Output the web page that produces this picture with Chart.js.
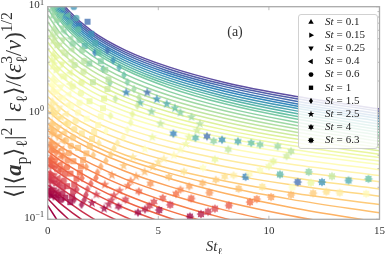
<!DOCTYPE html>
<html>
<head>
<meta charset="utf-8">
<script src="https://cdn.jsdelivr.net/npm/chart.js@4.4.1/dist/chart.umd.min.js"></script>
<style>
  html, body { margin: 0; padding: 0; background: #fff; }
  canvas { display: block; }
</style>
</head>
<body>
<canvas id="chart" width="386" height="254"></canvas>
<script>
// model curves, one row per dissipation bin (bottom red -> top purple), y at curveX
const curveX = [0, 0.5, 1, 2, 3.5, 5.5, 8, 11, 15];
const curveY = [
  [0.135, 0.0931],
  [0.156, 0.122, 0.0979],
  [0.181, 0.145, 0.120, 0.085],
  [0.210, 0.171, 0.142, 0.103, 0.0696],
  [0.243, 0.202, 0.171, 0.128, 0.0896],
  [0.282, 0.234, 0.199, 0.149, 0.105, 0.0727],
  [0.327, 0.274, 0.234, 0.178, 0.127, 0.0891],
  [0.378, 0.317, 0.271, 0.206, 0.147, 0.103, 0.0727],
  [0.439, 0.367, 0.314, 0.238, 0.171, 0.120, 0.0842],
  [0.508, 0.428, 0.367, 0.281, 0.203, 0.144, 0.102, 0.0740],
  [0.589, 0.497, 0.428, 0.330, 0.239, 0.171, 0.122, 0.0887],
  [0.682, 0.579, 0.500, 0.387, 0.283, 0.204, 0.147, 0.108, 0.0773],
  [0.791, 0.673, 0.583, 0.454, 0.334, 0.242, 0.176, 0.129, 0.0936],
  [0.916, 0.760, 0.649, 0.500, 0.369, 0.272, 0.202, 0.154, 0.115],
  [1.06, 0.855, 0.718, 0.546, 0.403, 0.300, 0.229, 0.178, 0.138],
  [1.23, 0.990, 0.832, 0.634, 0.470, 0.352, 0.269, 0.211, 0.165],
  [1.43, 1.15, 0.961, 0.733, 0.545, 0.409, 0.314, 0.247, 0.193],
  [1.65, 1.32, 1.11, 0.845, 0.629, 0.473, 0.363, 0.286, 0.225],
  [1.91, 1.53, 1.28, 0.970, 0.721, 0.542, 0.417, 0.329, 0.258],
  [2.22, 1.76, 1.47, 1.11, 0.822, 0.617, 0.474, 0.373, 0.293],
  [2.57, 2.02, 1.68, 1.26, 0.932, 0.697, 0.534, 0.420, 0.328],
  [2.98, 2.31, 1.91, 1.42, 1.04, 0.767, 0.584, 0.455, 0.354],
  [3.45, 2.65, 2.16, 1.59, 1.15, 0.845, 0.637, 0.494, 0.381],
  [4.00, 3.03, 2.45, 1.79, 1.28, 0.928, 0.694, 0.535, 0.410],
  [4.63, 3.46, 2.78, 2.00, 1.41, 1.02, 0.756, 0.578, 0.441],
  [5.37, 3.96, 3.15, 2.24, 1.56, 1.12, 0.822, 0.624, 0.473],
  [6.22, 4.52, 3.56, 2.50, 1.73, 1.22, 0.893, 0.673, 0.506],
  [7.21, 5.16, 4.02, 2.79, 1.91, 1.34, 0.968, 0.725, 0.541],
  [8.36, 5.89, 4.55, 3.11, 2.10, 1.46, 1.05, 0.779, 0.578],
  [9.68, 6.72, 5.14, 3.47, 2.32, 1.59, 1.13, 0.837, 0.617],
  [11.2, 7.66, 5.79, 3.86, 2.55, 1.73, 1.22, 0.898, 0.657],
  [11.9, 8.06, 6.09, 4.06, 2.68, 1.83, 1.29, 0.952, 0.698],
  [12.5, 8.48, 6.39, 4.26, 2.82, 1.92, 1.37, 1.01, 0.742],
  [13.3, 8.93, 6.72, 4.47, 2.96, 2.02, 1.44, 1.07, 0.787],
  [14.0, 9.39, 7.05, 4.69, 3.11, 2.13, 1.52, 1.13, 0.834],
  [14.8, 9.88, 7.40, 4.92, 3.26, 2.24, 1.60, 1.19, 0.882],
  [15.6, 10.4, 7.77, 5.15, 3.41, 2.35, 1.68, 1.25, 0.932],
  [16.5, 10.9, 8.15, 5.40, 3.58, 2.46, 1.77, 1.32, 0.983],
  [17.5, 11.5, 8.54, 5.65, 3.74, 2.58, 1.85, 1.39, 1.04],
  [18.5, 12.1, 8.95, 5.90, 3.91, 2.70, 1.94, 1.46, 1.09]
];

// particle data: one row per St, one column per dissipation bin
const stValues = [0.1, 0.15, 0.25, 0.4, 0.6, 1, 1.5, 2.5, 4, 6.3];
const stLabels = ['0.1', '0.15', '0.25', '0.4', '0.6', '1', '1.5', '2.5', '4', '6.3'];
const binColor = [0, 0.04, 0.08, 0.12, 0.16, 0.20, 0.24, 0.28, 0.32, 0.36, 0.40, 0.44,
                  0.48, 0.52, 0.56, 0.60, 0.64, 0.68, 0.72, 0.76, 0.80, 0.84, 0.88, 0.94,
                  0.02, 0.10, 0.18, 0.26, 0.34, 0.42, 0.50, 0.58, 0.66, 0.74, 0.82, 0.91];
const markerX = [
  [0.10, 0.11, 0.12, 0.12, 0.13, 0.145, 0.15, 0.16, 0.18, 0.19, 0.20, 0.21, 0.23, 0.24, 0.25, 0.255, 0.27, 0.275, 0.26, null, null, null, null, null,
   0.08, 0.09, 0.10, 0.12, 0.14, 0.15, 0.18, 0.19, 0.20, 0.19, null, null],
  [0.15, 0.165, 0.17, 0.18, 0.20, 0.22, 0.23, 0.24, 0.26, 0.285, 0.30, 0.315, 0.34, 0.36, 0.38, 0.38, 0.41, 0.41, 0.39, 0.36, null, null, null, null,
   0.12, 0.13, 0.155, 0.17, 0.21, 0.23, 0.26, 0.28, 0.31, 0.28, null, null],
  [0.26, 0.275, 0.29, 0.30, 0.33, 0.36, 0.38, 0.40, 0.44, 0.475, 0.50, 0.525, 0.57, 0.60, 0.63, 0.64, 0.68, 0.69, 0.65, 0.60, null, null, null, null,
   0.20, 0.22, 0.26, 0.29, 0.34, 0.385, 0.44, 0.47, 0.51, 0.47, null, null],
  [0.41, 0.44, 0.46, 0.48, 0.52, 0.58, 0.60, 0.64, 0.70, 0.76, 0.80, 0.84, 0.91, 0.96, 1.00, 1.02, 1.08, 1.10, 1.04, 0.96, 0.92, null, null, null,
   0.32, 0.35, 0.41, 0.46, 0.55, 0.62, 0.70, 0.76, 0.82, 0.75, 0.67, null],
  [0.61, 0.66, 0.69, 0.72, 0.78, 0.87, 0.90, 0.96, 1.05, 1.14, 1.20, 1.26, 1.37, 1.44, 1.50, 1.53, 1.62, 1.65, 1.56, 1.44, 1.38, 1.29, 1.18, null,
   0.48, 0.53, 0.62, 0.70, 0.82, 0.92, 1.05, 1.13, 1.22, 1.13, 1.00, null],
  [1.02, 1.10, 1.15, 1.20, 1.30, 1.45, 1.50, 1.60, 1.75, 1.90, 2.00, 2.10, 2.28, 2.40, 2.50, 2.55, 2.70, 2.75, 2.60, 2.40, 2.30, 2.15, 1.97, 1.80,
   0.80, 0.88, 1.03, 1.16, 1.37, 1.54, 1.76, 1.89, 2.04, 1.88, 1.67, 1.42],
  [1.53, 1.65, 1.73, 1.80, 1.95, 2.18, 2.25, 2.40, 2.63, 2.85, 3.00, 3.15, 3.42, 3.60, 3.75, 3.83, 4.05, 4.13, 3.90, 3.60, 3.45, 3.23, 2.96, 2.70,
   1.20, 1.32, 1.55, 1.74, 2.06, 2.31, 2.63, 2.84, 3.06, 2.81, 2.51, 2.13],
  [2.55, 2.75, 2.88, 3.00, 3.25, 3.63, 3.75, 4.00, 4.38, 4.75, 5.00, 5.25, 5.70, 6.00, 6.25, 6.38, 6.75, 6.88, 6.50, 6.00, 5.75, 5.38, 4.93, 4.50,
   2.00, 2.20, 2.58, 2.90, 3.43, 3.85, 4.39, 4.73, 5.10, 4.69, 4.18, 3.55],
  [4.08, 4.40, 4.60, 4.80, 5.20, 5.80, 6.00, 6.40, 7.00, 7.60, 8.00, 8.40, 9.12, 9.60, 10.0, 10.2, 10.8, 11.0, 10.4, 9.60, 9.20, 8.60, 7.88, 7.20,
   3.20, 3.52, 4.12, 4.64, 5.48, 6.16, 7.02, 7.56, 8.16, 7.50, 6.68, 5.68],
  [6.43, 6.93, 7.25, 7.56, 8.19, 9.14, 9.45, 10.1, 11.0, 12.0, 12.6, 13.2, 14.4, null, null, null, null, null, null, null, 14.5, 13.6, 12.4, 11.3,
   5.04, 5.54, 6.49, 7.31, 8.63, 9.70, 11.06, 11.9, 12.85, 11.8, 10.5, 8.95]
];
const markerY = [
  [0.169, 0.198, 0.231, 0.273, 0.322, 0.381, 0.450, 0.543, 0.655, 0.816, 1.02, 1.29, 1.64, 2.11, 2.72, 3.58, 4.72, 6.22, 8.20, null, null, null, null, null,
   0.184, 0.252, 0.352, 0.497, 0.736, 1.15, 1.87, 3.14, 5.46, 9.56, null, null],
  [0.167, 0.195, 0.227, 0.267, 0.315, 0.372, 0.438, 0.526, 0.633, 0.784, 0.972, 1.23, 1.55, 1.98, 2.54, 3.32, 4.36, 5.71, 7.48, 9.95, null, null, null, null,
   0.182, 0.248, 0.345, 0.484, 0.711, 1.10, 1.77, 2.93, 5.04, 8.72, null, null],
  [0.163, 0.189, 0.220, 0.258, 0.302, 0.355, 0.416, 0.496, 0.593, 0.728, 0.895, 1.11, 1.39, 1.76, 2.23, 2.89, 3.75, 4.87, 6.32, 8.27, null, null, null, null,
   0.178, 0.241, 0.332, 0.461, 0.666, 1.01, 1.59, 2.58, 4.34, 7.34, null, null],
  [0.159, 0.183, 0.210, 0.245, 0.286, 0.333, 0.388, 0.459, 0.543, 0.659, 0.800, 0.979, 1.20, 1.50, 1.88, 2.40, 3.08, 3.94, 5.05, 6.47, 8.30, null, null, null,
   0.174, 0.232, 0.315, 0.431, 0.612, 0.904, 1.37, 2.17, 3.56, 5.84, 9.73, null],
  [0.153, 0.175, 0.200, 0.231, 0.268, 0.310, 0.358, 0.420, 0.491, 0.588, 0.704, 0.845, 1.01, 1.25, 1.54, 1.94, 2.45, 3.09, 3.89, 4.87, 6.11, 7.82, 10.0, null,
   0.169, 0.221, 0.296, 0.399, 0.553, 0.794, 1.16, 1.78, 2.83, 4.49, 7.11, null],
  [0.145, 0.163, 0.184, 0.211, 0.241, 0.275, 0.315, 0.362, 0.417, 0.488, 0.571, 0.664, 0.772, 0.927, 1.11, 1.37, 1.68, 2.07, 2.55, 3.07, 3.70, 4.54, 5.56, 7.22,
   0.160, 0.205, 0.269, 0.352, 0.471, 0.643, 0.884, 1.29, 1.95, 2.92, 4.27, 6.62],
  [0.137, 0.152, 0.170, 0.192, 0.217, 0.245, 0.277, 0.314, 0.355, 0.406, 0.466, 0.524, 0.591, 0.693, 0.813, 0.975, 1.17, 1.40, 1.68, 1.95, 2.27, 2.67, 3.13, 3.88,
   0.153, 0.191, 0.244, 0.312, 0.402, 0.522, 0.677, 0.941, 1.36, 1.92, 2.60, 3.69],
  [0.126, 0.138, 0.151, 0.168, 0.186, 0.207, 0.230, 0.254, 0.280, 0.311, 0.345, 0.371, 0.400, 0.452, 0.511, 0.591, 0.684, 0.791, 0.916, 1.01, 1.11, 1.22, 1.35, 1.56,
   0.142, 0.171, 0.212, 0.260, 0.318, 0.385, 0.458, 0.592, 0.793, 1.03, 1.25, 1.56],
  [0.116, 0.124, 0.134, 0.146, 0.159, 0.174, 0.190, 0.204, 0.219, 0.235, 0.252, 0.259, 0.266, 0.290, 0.315, 0.351, 0.392, 0.436, 0.486, 0.505, 0.523, 0.541, 0.560, 0.603,
   0.132, 0.153, 0.183, 0.216, 0.250, 0.281, 0.305, 0.366, 0.454, 0.545, 0.584, 0.639],
  [0.106, 0.112, 0.118, 0.126, 0.135, 0.145, 0.155, 0.162, 0.170, 0.176, 0.182, 0.178, 0.174, null, null, null, null, null, null, null, 0.240, 0.232, 0.224, 0.224,
   0.122, 0.137, 0.157, 0.178, 0.194, 0.202, 0.200, 0.221, 0.254, 0.279, 0.264, 0.251]
];

const xTicks = [0, 5, 10, 15];
const yTicks = [0.1, 1, 10];
const yTickExp = ['\u22121', '0', '1'];

const markerShapes = ['triUp', 'triRight', 'triDown', 'triLeft', 'circle', 'square', 'diamond', 'star5', 'star6', 'star8'];
const SERIF = '"Liberation Serif", "DejaVu Serif", "DejaVu Sans", serif';
const AXIS = '#aaaaaa';

// matplotlib Spectral
const spectralStops = [
  [158, 1, 66], [213, 62, 79], [244, 109, 67], [253, 174, 97], [254, 224, 139], [255, 255, 191],
  [230, 245, 152], [171, 221, 164], [102, 194, 165], [50, 136, 189], [94, 79, 162]
];
function spectral(f, a) {
  const t = Math.min(Math.max(f, 0), 1) * 10;
  const i = Math.min(9, Math.floor(t));
  const u = t - i;
  const c = spectralStops[i].map((v, k) => Math.round(v + (spectralStops[i + 1][k] - v) * u));
  return `rgba(${c[0]},${c[1]},${c[2]},${a})`;
}

function markerPath(ctx, shape, s) {
  ctx.beginPath();
  const poly = pts => { pts.forEach((p, i) => i ? ctx.lineTo(p[0] * s, p[1] * s) : ctx.moveTo(p[0] * s, p[1] * s)); ctx.closePath(); };
  const star = (n, ro, ri) => {
    const pts = [];
    for (let i = 0; i < 2 * n; i++) {
      const r = i % 2 ? ri : ro;
      const a = -Math.PI / 2 + i * Math.PI / n;
      pts.push([r * Math.cos(a), r * Math.sin(a)]);
    }
    poly(pts);
  };
  switch (shape) {
    case 'triUp': poly([[0, -3.8], [3.4, 2.2], [-3.4, 2.2]]); break;
    case 'triDown': poly([[0, 3.8], [3.4, -2.2], [-3.4, -2.2]]); break;
    case 'triRight': poly([[3.8, 0], [-2.2, 3.4], [-2.2, -3.4]]); break;
    case 'triLeft': poly([[-3.8, 0], [2.2, 3.4], [2.2, -3.4]]); break;
    case 'circle': ctx.arc(0, 0, 3 * s, 0, 2 * Math.PI); break;
    case 'square': poly([[-2.7, -2.7], [2.7, -2.7], [2.7, 2.7], [-2.7, 2.7]]); break;
    case 'diamond': poly([[0, -3.9], [2.5, 0], [0, 3.9], [-2.5, 0]]); break;
    case 'star5': star(5, 4.4, 1.8); break;
    case 'star6': star(6, 4.0, 2.3); break;
    case 'star8': star(8, 4.1, 2.6); break;
  }
}

const markerCache = {};
function markerCanvas(shape, color) {
  const key = shape + color;
  if (!markerCache[key]) {
    const c = document.createElement('canvas');
    c.width = 14; c.height = 14;
    const g = c.getContext('2d');
    g.translate(7, 7);
    markerPath(g, shape, 1.12);
    g.fillStyle = color;
    g.fill();
    markerCache[key] = c;
  }
  return markerCache[key];
}

// rich text: runs of [text, kind]
function drawRich(ctx, runs, size, x0, base, dry) {
  const fonts = {
    n: `${size}px ${SERIF}`, i: `italic ${size}px ${SERIF}`, bi: `italic bold ${size}px ${SERIF}`,
    sub: `${size * 0.7}px ${SERIF}`, sup: `${size * 0.7}px ${SERIF}`, supStack: `${size * 0.7}px ${SERIF}`
  };
  const dys = { n: 0, i: 0, bi: 0, sub: size * 0.25, sup: -size * 0.4, supStack: -size * 0.4 };
  let x = x0;
  runs.forEach(([t, k]) => {
    ctx.font = fonts[k];
    if (!dry) ctx.fillText(t, x, base + dys[k]);
    if (k !== 'supStack') x += ctx.measureText(t).width;
  });
  return x - x0;
}

const yLabelRuns = [
  ['\u27E8', 'n'], ['|', 'n'], ['\u27E8', 'n'], ['a', 'bi'], ['p', 'sub'], ['\u27E9', 'n'], ['\u2113', 'sub'],
  ['|', 'n'], ['2', 'sup'], [' | ', 'n'], ['\u03B5', 'i'], ['\u2113', 'sub'], ['\u27E9', 'n'], ['/', 'n'],
  ['(', 'n'], ['\u03B5', 'i'], ['3', 'supStack'], ['\u2113', 'sub'], ['/', 'n'], ['\u03BD', 'i'], [')', 'n'], ['1/2', 'sup']
];

const framePlugin = {
  id: 'frame',
  afterDatasetsDraw(chart) {
    const { ctx, chartArea: a, scales: { x, y } } = chart;
    ctx.save();
    ctx.strokeStyle = AXIS;
    ctx.lineWidth = 0.8;
    const tick = (x0, y0, x1, y1) => { ctx.beginPath(); ctx.moveTo(x0, y0); ctx.lineTo(x1, y1); ctx.stroke(); };
    xTicks.forEach(v => {
      const p = x.getPixelForValue(v);
      tick(p, a.bottom, p, a.bottom - 3.5);
      tick(p, a.top, p, a.top + 3.5);
    });
    [0.1, 1].forEach(d => {
      for (let m = 1; m <= 10; m++) {
        const p = y.getPixelForValue(m * d);
        const len = (m === 1 || m === 10) ? 3.5 : 2;
        tick(a.left, p, a.left + len, p);
        tick(a.right, p, a.right - len, p);
      }
    });
    ctx.lineWidth = 1.3;
    ctx.strokeRect(a.left, a.top, a.right - a.left, a.bottom - a.top);

    ctx.fillStyle = '#333';
    ctx.textBaseline = 'middle';
    ctx.textAlign = 'center';
    ctx.font = `11px ${SERIF}`;
    xTicks.forEach(v => ctx.fillText(String(v), x.getPixelForValue(v), a.bottom + 12.3));
    ctx.textAlign = 'right';
    yTicks.forEach((v, i) => {
      const p = y.getPixelForValue(v);
      ctx.font = `8px ${SERIF}`;
      ctx.fillText(yTickExp[i], 44, p - 4.2);
      const ew = ctx.measureText(yTickExp[i]).width;
      ctx.font = `11px ${SERIF}`;
      ctx.fillText('10', 44 - ew - 0.3, p - 1.2);
    });
    ctx.restore();
  },
  afterDraw(chart) {
    const ctx = chart.ctx;
    ctx.save();
    ctx.fillStyle = '#333';
    ctx.textBaseline = 'alphabetic';
    ctx.textAlign = 'left';

    // y label, rotated
    const w0 = drawRich(ctx, yLabelRuns, 14, 0, 0, true);
    const size = 14 * 186 / w0;
    const w = drawRich(ctx, yLabelRuns, size, 0, 0, true);
    ctx.save();
    ctx.translate(0, 105);
    ctx.rotate(-Math.PI / 2);
    drawRich(ctx, yLabelRuns, size, -w / 2, 21);
    ctx.restore();

    // x label
    const xRuns = [['St', 'i'], ['\u2113', 'sub']];
    const xw = drawRich(ctx, xRuns, 15, 0, 0, true);
    drawRich(ctx, xRuns, 15, 214 - xw / 2, 251);

    // panel tag
    ctx.font = `14px ${SERIF}`;
    ctx.textAlign = 'center';
    ctx.textBaseline = 'middle';
    ctx.fillText('(a)', 235, 32);

    // legend
    ctx.beginPath();
    ctx.roundRect(298.5, 14.5, 79, 134, 2.5);
    ctx.fillStyle = 'rgba(255,255,255,0.85)';
    ctx.fill();
    ctx.strokeStyle = '#cccccc';
    ctx.lineWidth = 0.9;
    ctx.stroke();
    ctx.textAlign = 'left';
    stLabels.forEach((lab, k) => {
      const yy = 22 + 13.15 * k;
      ctx.save();
      ctx.translate(311, yy);
      markerPath(ctx, markerShapes[k], 0.8);
      ctx.fillStyle = '#000';
      ctx.fill();
      ctx.restore();
      ctx.fillStyle = '#222';
      ctx.font = `italic 11px ${SERIF}`;
      ctx.fillText('St', 325, yy);
      const sw = ctx.measureText('St').width;
      ctx.font = `11px ${SERIF}`;
      ctx.fillText('=', 325 + sw + 3, yy);
      const ew = ctx.measureText('=').width;
      ctx.fillText(lab, 325 + sw + ew + 6, yy);
    });
    ctx.restore();
  }
};

const curveSets = curveY.map((ys, j) => ({
  data: ys.map((v, i) => ({ x: curveX[i], y: v })),
  showLine: true,
  borderColor: spectral(j / (curveY.length - 1), 1),
  borderWidth: 1.5,
  pointRadius: 0,
  cubicInterpolationMode: 'monotone',
  tension: 0.4,
  order: 2
}));

const markerSets = stValues.map((st, k) => ({
  label: 'St = ' + stLabels[k],
  data: binColor
    .map((f, b) => ({ x: markerX[k][b], y: markerY[k][b], f }))
    .filter(p => p.x != null && p.y != null),
  showLine: false,
  pointRadius: 4,
  pointStyle: c => markerCanvas(markerShapes[k], spectral(c.raw ? c.raw.f : 0, 0.78)),
  order: 1
}));

new Chart(document.getElementById('chart'), {
  type: 'scatter',
  data: { datasets: [...curveSets, ...markerSets] },
  options: {
    responsive: false,
    animation: false,
    devicePixelRatio: 1,
    events: [],
    layout: { padding: { top: 6.7, right: 6.5, left: 0, bottom: 0 } },
    plugins: { legend: { display: false }, tooltip: { enabled: false } },
    scales: {
      x: {
        type: 'linear', min: 0, max: 15,
        ticks: { display: false },
        grid: { display: false, drawTicks: false },
        border: { display: false },
        afterFit: s => { s.height = 34.7; }
      },
      y: {
        type: 'logarithmic', min: 0.1, max: 10,
        ticks: { display: false },
        grid: { display: false, drawTicks: false },
        border: { display: false },
        afterFit: s => { s.width = 47.7; }
      }
    }
  },
  plugins: [framePlugin]
});
</script>
</body>
</html>
